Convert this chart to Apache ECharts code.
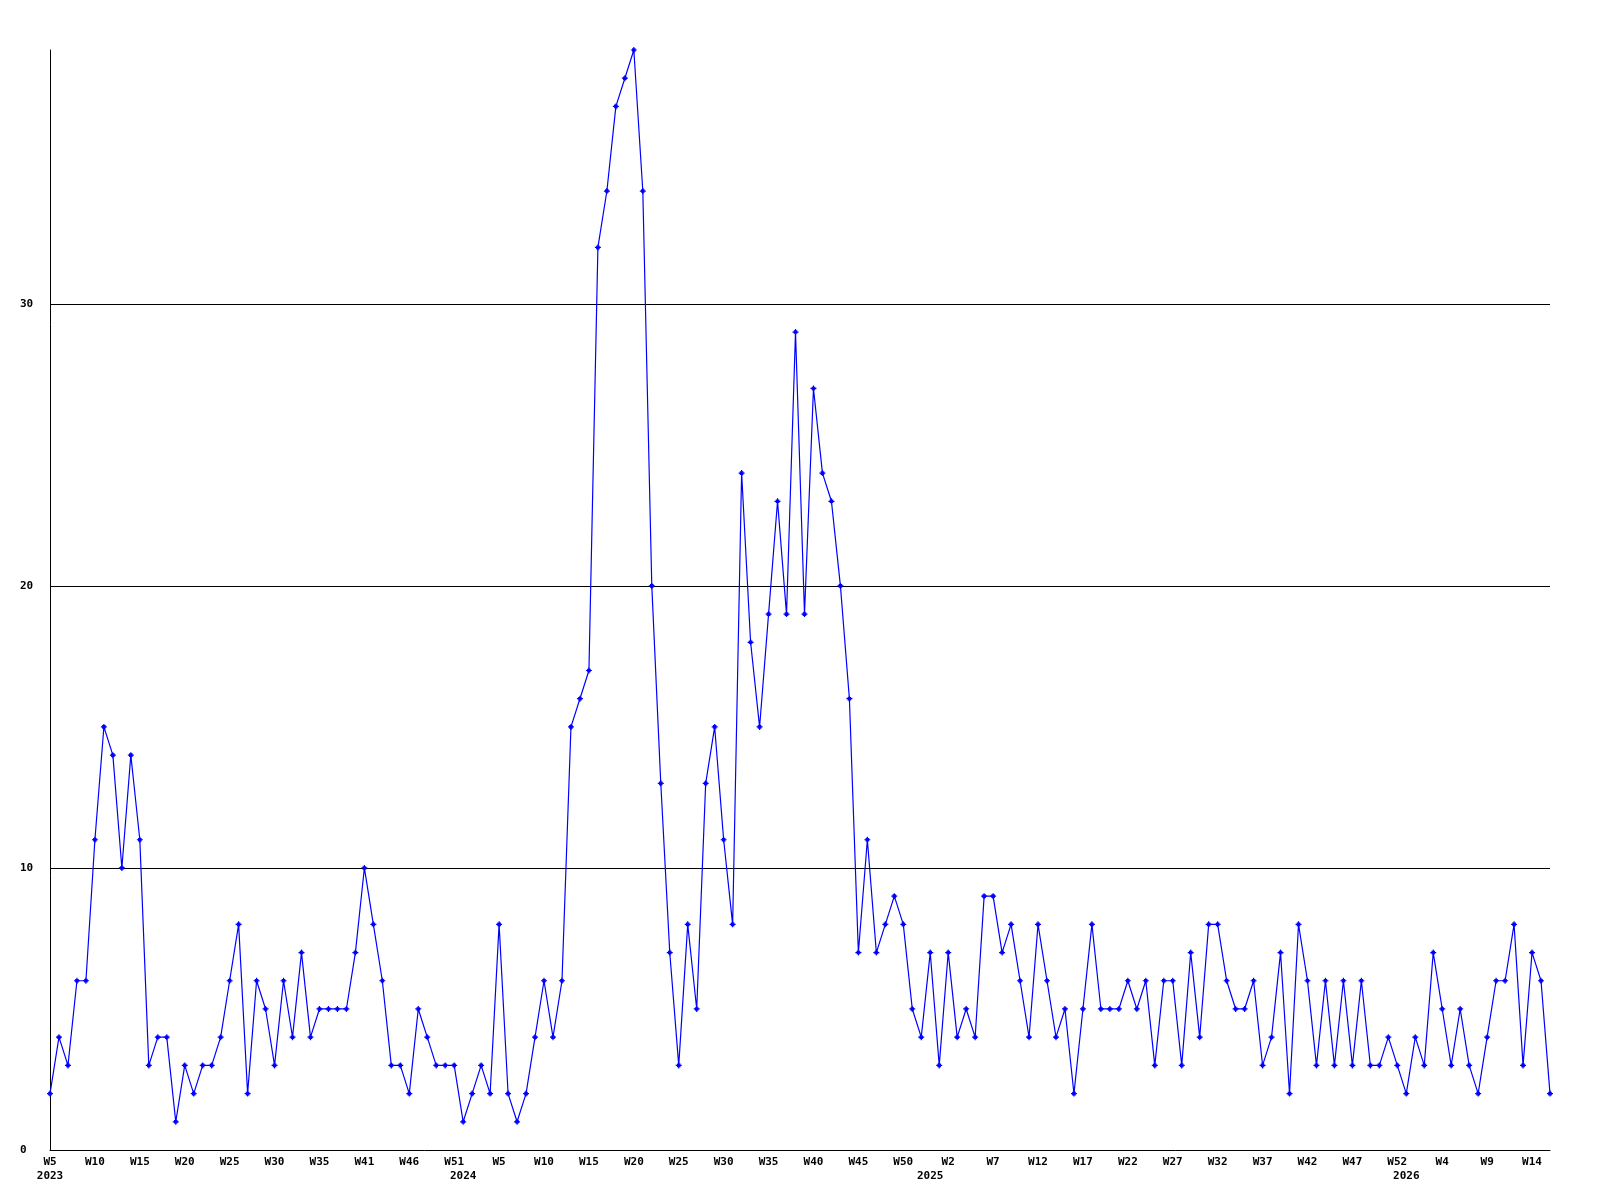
<!DOCTYPE html>
<html>
<head>
<meta charset="utf-8">
<script src="https://cdn.jsdelivr.net/npm/echarts@6/dist/echarts.min.js"></script>
<style>
  html, body { margin: 0; padding: 0; background: #ffffff; }
  #chart { width: 1600px; height: 1200px; }
</style>
</head>
<body>
<div id="chart"></div>
<script>
// Weekly counts, 2023 W5 .. 2026 W15 (168 weeks)
const weeklyCounts = [
  2,4,3,6,6,11,15,14,10,14,
  11,3,4,4,1,3,2,3,3,4,
  6,8,2,6,5,3,6,4,7,4,
  5,5,5,5,7,10,8,6,3,3,
  2,5,4,3,3,3,1,2,3,2,
  8,2,1,2,4,6,4,6,15,16,
  17,32,34,37,38,39,34,20,13,7,
  3,8,5,13,15,11,8,24,18,15,
  19,23,19,29,19,27,24,23,20,16,
  7,11,7,8,9,8,5,4,7,3,
  7,4,5,4,9,9,7,8,6,4,
  8,6,4,5,2,5,8,5,5,5,
  6,5,6,3,6,6,3,7,4,8,
  8,6,5,5,6,3,4,7,2,8,
  6,3,6,3,6,3,6,3,3,4,
  3,2,4,3,7,5,3,5,3,2,
  4,6,6,8,3,7,6,2
];

// Week tick labels, one for every 5th week starting at the first
const weekTickLabels = [
  'W5','W10','W15','W20','W25','W30','W35','W41','W46','W51',
  'W5','W10','W15','W20','W25','W30','W35','W40','W45','W50',
  'W2','W7','W12','W17','W22','W27','W32','W37','W42','W47','W52',
  'W4','W9','W14'
];
const weekTickStep = 5;

// Year labels and the week index where each appears
const yearTickLabels = ['2023','2024','2025','2026'];
const yearTickIndex = [0, 46, 98, 151];

// Horizontal grid values
const gridValues = [10, 20, 30];

const categories = weeklyCounts.map((_, i) => String(i));

const labelFont = {
  fontFamily: 'DejaVu Sans Mono',
  fontWeight: 'bold',
  fontSize: 11,
  color: '#000000'
};

const chart = echarts.init(document.getElementById('chart'), null, { renderer: 'canvas' });

chart.setOption({
  animation: false,
  backgroundColor: '#ffffff',
  grid: { left: 50, right: 50, top: 50, bottom: 50, containLabel: false, outerBoundsMode: 'none' },
  xAxis: [
    {
      type: 'category',
      data: categories,
      boundaryGap: false,
      position: 'bottom',
      axisLine: { show: true, lineStyle: { color: '#000000', width: 1 } },
      axisTick: { show: false },
      splitLine: { show: false },
      axisLabel: Object.assign({
        interval: (i) => i % weekTickStep === 0,
        formatter: (v, i) => weekTickLabels[i / weekTickStep] || '',
        margin: 7,
        align: 'center',
        hideOverlap: false
      }, labelFont)
    },
    {
      type: 'category',
      data: categories,
      boundaryGap: false,
      position: 'bottom',
      gridIndex: 0,
      offset: 0,
      axisLine: { show: false },
      axisTick: { show: false },
      splitLine: { show: false },
      axisLabel: Object.assign({
        interval: (i) => yearTickIndex.indexOf(i) >= 0,
        formatter: (v, i) => {
          const k = yearTickIndex.indexOf(i);
          return k >= 0 ? yearTickLabels[k] : '';
        },
        margin: 21,
        align: 'center',
        hideOverlap: false
      }, labelFont)
    }
  ],
  yAxis: {
    type: 'value',
    min: 0,
    max: 39,
    interval: 10,
    axisLine: { show: true, lineStyle: { color: '#000000', width: 1 } },
    axisTick: { show: false },
    splitLine: { show: false },
    axisLabel: Object.assign({
      showMaxLabel: false,
      align: 'left',
      margin: 30
    }, labelFont)
  },
  series: [
    {
      type: 'line',
      xAxisIndex: 0,
      data: weeklyCounts,
      showSymbol: true,
      showAllSymbol: true,
      symbol: 'path://M2 0H3V1H4V2H5V3H4V4H3V5H2V4H1V3H0V2H1V1H2Z',
      symbolSize: 6,
      lineStyle: { color: '#0000ff', width: 1.2 },
      itemStyle: { color: '#0000ff' },
      z: 3,
      markLine: {
        silent: true,
        symbol: ['none', 'none'],
        label: { show: false },
        lineStyle: { color: '#000000', width: 1, type: 'solid' },
        data: gridValues.map(v => ({ yAxis: v })),
        z: 1
      }
    }
  ]
});
</script>
</body>
</html>
